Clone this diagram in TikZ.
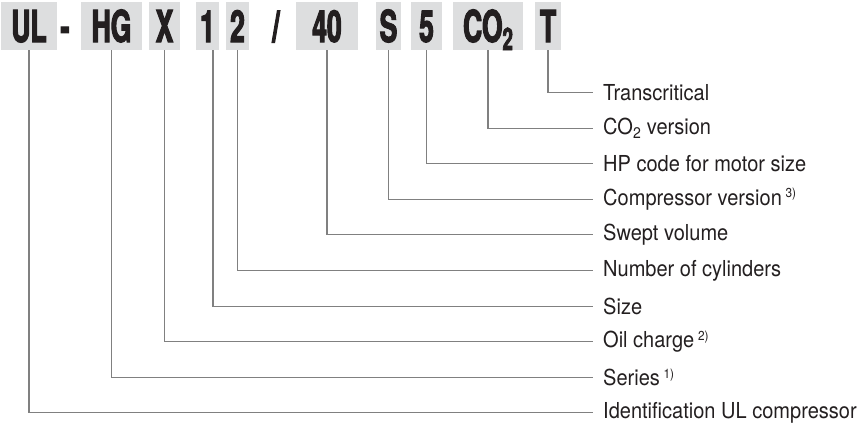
\documentclass[tikz,border=0pt]{standalone}
\usepackage{fontspec}
\setmainfont{TeX Gyre Heros}[FakeStretch=0.91]
\newfontfamily\codefont{TeX Gyre Heros}[FakeStretch=0.6, FakeBold=2.5]
\usetikzlibrary{positioning}
\definecolor{boxGray}{RGB}{221,222,223}
\definecolor{leaderGray}{RGB}{128,128,128}
\definecolor{inkBlack}{RGB}{35,31,32}
\tikzset{
  codeText/.style = {inner sep=0pt, text=inkBlack, text height=32, text depth=0pt,
    font=\codefont\bfseries\fontsize{44}{44}\selectfont},
  codeBox/.style = {codeText, fill=boxGray, minimum height=48},
  descText/.style = {anchor=west, inner xsep=10, inner ysep=0pt, text=inkBlack,
    font=\fontsize{22}{22}\selectfont},
  leader/.style = {draw=leaderGray, line width=1.1}
}
\newcommand{\codeSub}[1]{\raisebox{-8pt}{\fontsize{31}{31}\selectfont #1}}
\newcommand{\note}[1]{\,\textsuperscript{\fontsize{13}{13}\selectfont #1)}}

\begin{document}
\begin{tikzpicture}[x=1pt, y=-1pt]
  \useasboundingbox (0,0) rectangle (861,440);

  % type code
  \node[codeBox, minimum width=56] (ul) at (29,26) {UL};
  \node[codeText] (dash) at (65,26) {-};
  \node[codeBox, minimum width=61] (hg) at (111.5,26) {HG};
  \node[codeBox, minimum width=31] (x) at (164.5,26) {X};
  \node[codeBox, minimum width=23] (one) at (207.5,26) {1};
  \node[codeBox, minimum width=23] (two) at (237.5,26) {2};
  \node[codeText] (slash) at (276,26) {/};
  \node[codeBox, minimum width=62] (forty) at (327,26) {40};
  \node[codeBox, minimum width=25] (s) at (388.5,26) {S};
  \node[codeBox, minimum width=31] (five) at (426.5,26) {5};
  \node[codeBox, minimum width=70] (co) at (488,26) {CO\codeSub{2}};
  \node[codeBox, minimum width=26] (t) at (548,26) {T};
  \coordinate (oneFoot) at ([xshift=5.5]one.south);

  % meaning of each part
  \foreach \code/\desc [count=\i from 0] in {
      t.south/Transcritical,
      co.south/CO\textsubscript{2} version,
      five.south/HP code for motor size,
      s.south/Compressor version\note{3},
      forty.south/Swept volume,
      two.south/Number of cylinders,
      oneFoot/Size,
      x.south/Oil charge\note{2},
      hg.south/Series\note{1},
      ul.south/Identification UL compressor} {
    \node[descText] (d\i) at (593, {92.5+35.6*\i}) {\desc};
    \draw[leader] (\code) |- (d\i.west);
  }
\end{tikzpicture}
\end{document}
